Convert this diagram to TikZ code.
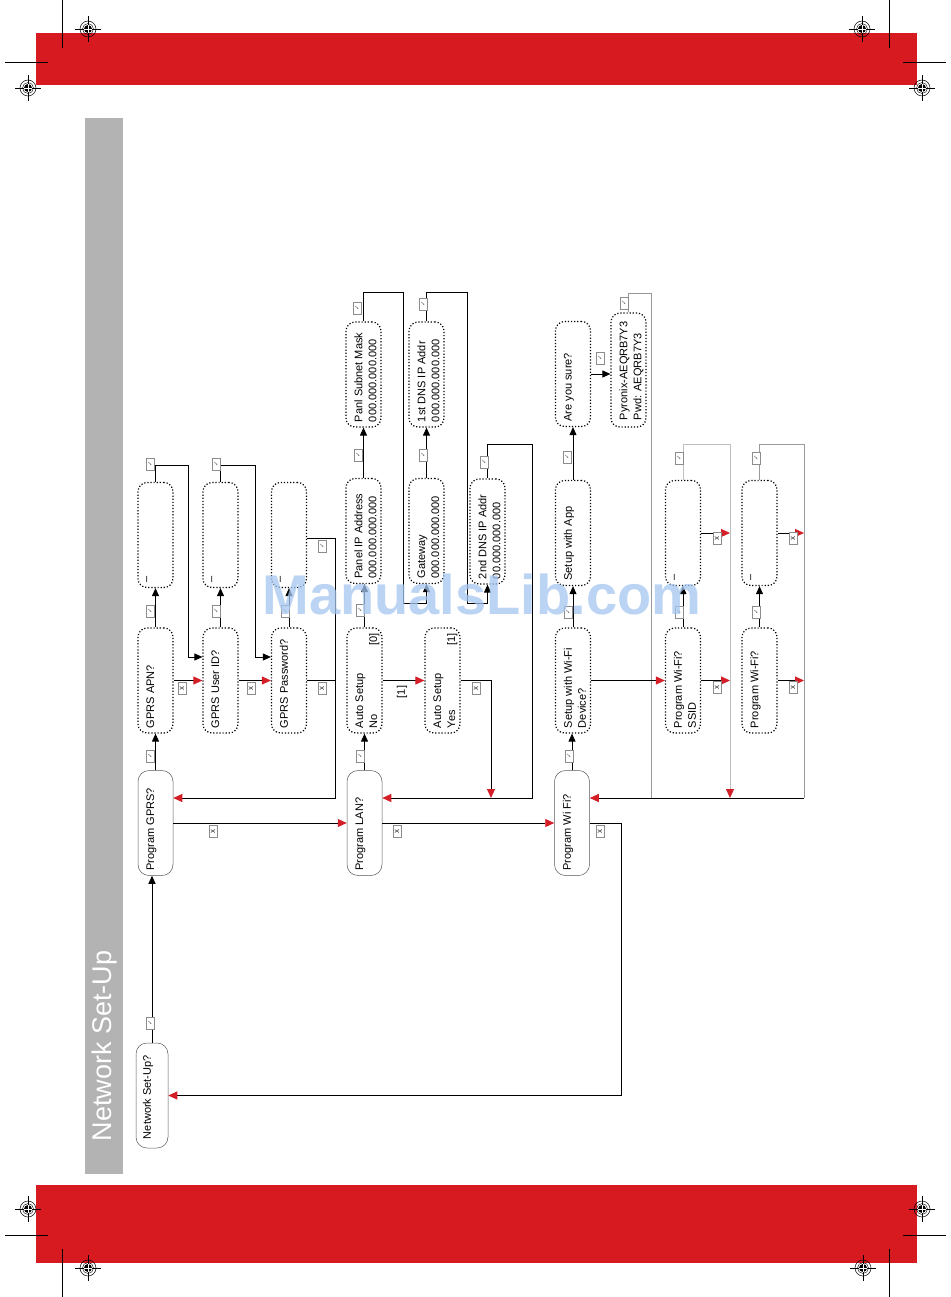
\documentclass[tikz,border=0pt]{standalone}
\usepackage{fontspec}
\setmainfont{Liberation Sans}
\newfontfamily\dejavu{DejaVu Sans}
\usetikzlibrary{arrows.meta}
\definecolor{bandred}{RGB}{215,25,32}
\definecolor{arrred}{RGB}{212,30,40}
\definecolor{sidegray}{RGB}{179,179,179}
\definecolor{wmblue}{RGB}{165,198,240}
\newcommand\boxtxt[2][95pt]{\rotatebox{90}{\parbox[c][18pt][t]{#1}{\raggedright #2}}}
\newcommand\mychk{\rotatebox{90}{\dejavu\fontsize{6.5}{6.5}\selectfont ✓}}
\newcommand\myx{\rotatebox{90}{\fontsize{8}{8}\selectfont x}}
\tikzset{
  dbox/.style={draw, line width=1.2pt, dash pattern=on 1.2pt off 1.9pt, rounded corners=9pt,
    minimum width=35pt, minimum height=105pt, inner sep=0pt, font=\fontsize{11}{14}\selectfont},
  sbox/.style={draw=black!65, line width=0.5pt, rounded corners=11pt,
    minimum width=35pt, minimum height=105pt, inner sep=0pt, font=\fontsize{11}{14}\selectfont},
  cbox/.style={draw=black!45, line width=0.4pt, fill=white, text=black!60,
    minimum width=8pt, minimum height=12pt, inner sep=0pt},
  xbox/.style={draw=black!45, line width=0.4pt, fill=white, text=black!85,
    minimum width=8pt, minimum height=12pt, inner sep=0pt},
  ln/.style={draw=black, line width=0.9pt},
  gln/.style={draw=black!40, line width=0.8pt},
  barr/.style={ln, -{Triangle[length=8pt,width=7pt]}},
  rarr/.style={ln, -{Triangle[length=9pt,width=8pt,color=arrred]}},
  grarr/.style={draw=black!25, line width=0.8pt, -{Triangle[length=9pt,width=8pt,color=arrred]}},
  regm/.pic={
    \draw[line width=0.5pt] (0,0) circle (8);
    \draw[line width=0.4pt] (0,0) circle (5.5);
    \draw[line width=0.5pt] (-13,0) -- (13,0) (0,-13) -- (0,13);
    \fill (0,0) circle (4);
    \draw[white, line width=0.5pt] (-4,0) -- (4,0) (0,-4) -- (0,4);
  }
}
\begin{document}
\begin{tikzpicture}[x=1pt,y=-1pt]
\useasboundingbox (0,0) rectangle (950,1297);
\fill[white] (0,0) rectangle (950,1297);
% bands
\fill[bandred] (36,33) rectangle (917,85);
\fill[bandred] (36,1185) rectangle (917,1263);
% crop marks
\draw[line width=0.5pt] (62,0) -- (62,48) (5,62) -- (48,62);
\draw[line width=0.5pt] (889,0) -- (889,48) (903,62) -- (946,62);
\draw[line width=0.5pt] (62,1249) -- (62,1297) (5,1235) -- (48,1235);
\draw[line width=0.5pt] (889,1249) -- (889,1297) (903,1235) -- (946,1235);
\pic at (88,29) {regm};
\pic at (28,88) {regm};
\pic at (862,29) {regm};
\pic at (922,88) {regm};
\pic at (28,1209) {regm};
\pic at (88,1268) {regm};
\pic at (863,1268) {regm};
\pic at (922,1209) {regm};
% sidebar
\fill[sidegray] (85,118) rectangle (123,1174);
\node[font=\fontsize{27}{27}\selectfont, text=white, inner sep=0pt] (title) at (105,1046) {\rotatebox{90}{Network Set-Up}};

% ---------- nodes ----------
\node[sbox, minimum width=32pt] (netsu) at (152,1095.5) {\boxtxt[87pt]{Network Set-Up?}};
\node[sbox] (prgGPRS) at (155.5,823) {\boxtxt{Program GPRS?}};
\node[dbox] (apn) at (155.5,680.5) {\boxtxt{GPRS APN?}};
\node[dbox] (emA) at (155.5,535) {\boxtxt{–}};
\node[dbox] (uid) at (220.5,680.5) {\boxtxt{GPRS User ID?}};
\node[dbox] (emB) at (220.5,535) {\boxtxt{–}};
\node[dbox] (pwd) at (289,680.5) {\boxtxt{GPRS Password?}};
\node[dbox] (emC) at (289,535) {\boxtxt{–}};

\node[sbox] (prgLAN) at (364.5,823) {\boxtxt{Program LAN?}};
\node[dbox] (autoNo) at (364.5,680.5) {\boxtxt{Auto Setup\\No\hfill[0]}};
\node[dbox] (panelIP) at (363.5,531) {\boxtxt{Panel IP Address\\000.000.000.000}};
\node[dbox] (subnet) at (363.5,374.5) {\boxtxt{Panl Subnet Mask\\000.000.000.000}};
\node[dbox] (autoYes) at (442.5,680.5) {\boxtxt{Auto Setup\\Yes\hfill[1]}};
\node[dbox] (gateway) at (426.5,531) {\boxtxt{Gateway\\000.000.000.000}};
\node[dbox] (dns1) at (426.5,374.5) {\boxtxt{1st DNS IP Addr\\000.000.000.000}};
\node[dbox] (dns2) at (487.5,531.5) {\boxtxt{2nd DNS IP Addr\\00.000.000.000}};

\node[sbox] (prgWiFi) at (572,823) {\boxtxt{Program Wi Fi?}};
\node[dbox] (setupDev) at (573,680.5) {\boxtxt{Setup with Wi-Fi\\Device?}};
\node[dbox] (setupApp) at (573,533) {\boxtxt{Setup with App}};
\node[dbox] (sure) at (573,374) {\boxtxt{Are you sure?}};
\node[dbox, minimum height=114pt] (pyronix) at (628.5,370) {\boxtxt[100pt]{Pyronix-AEQRB7Y3\\Pwd: AEQRB7Y3}};
\node[dbox] (ssid) at (683,680.5) {\boxtxt{Program Wi-Fi?\\SSID}};
\node[dbox] (emI) at (683,533) {\boxtxt{–}};
\node[dbox] (wj) at (759.5,680.5) {\boxtxt{Program Wi-Fi?}};
\node[dbox] (emJ) at (759.5,533) {\boxtxt{–}};

% ---------- connectors: GPRS ----------
\draw[barr] (netsu.north) -- (netsu.north |- prgGPRS.south);
\draw[barr] (prgGPRS.north) -- (apn.south);
\draw[barr] (apn.north) -- (emA.south);
\coordinate (a1) at (188,465); \coordinate (a2) at (188,657);
\draw[barr] (emA.north) |- (a1) -- (a2) -- (a2 -| uid.west);
\draw[rarr] (apn.east) -- (uid.west);
\draw[barr] (uid.north) -- (emB.south);
\coordinate (b1) at (255,465); \coordinate (b2) at (255,657);
\draw[barr] (emB.north) |- (b1) -- (b2) -- (b2 -| pwd.west);
\draw[rarr] (uid.east) -- (pwd.west);
\draw[barr] (pwd.north) -- (emC.south);
\coordinate (c1) at (335,538); \coordinate (c2) at (335,798);
\draw[rarr] (emC.east |- c1) -- (c1) -- (c2) -- (c2 -| prgGPRS.east);
\draw[ln] (pwd.east) -- (pwd.east -| c1);
\draw[rarr] (prgGPRS.east) -- (prgLAN.west);

% ---------- connectors: LAN ----------
\draw[barr] (prgLAN.north) -- (autoNo.south);
\draw[barr] (autoNo.north) -- (autoNo.north |- panelIP.south);
\draw[barr] (panelIP.north) -- (subnet.south);
\coordinate (d1) at (403,292); \coordinate (d2) at (403,603);
\draw[barr] (subnet.north) |- (d1) -- (d2) -| (gateway.south);
\draw[barr] (gateway.north) -- (dns1.south);
\coordinate (e1) at (467,292); \coordinate (e2) at (467,603);
\draw[barr] (dns1.north) |- (e1) -- (e2) -| (dns2.south);
\coordinate (f1) at (532,444); \coordinate (f2) at (532,798);
\draw[rarr] (dns2.north) |- (f1) -- (f2) -- (f2 -| prgLAN.east);
\draw[rarr] (autoNo.east) -- (autoYes.west);
\coordinate (g1) at (491,680.5); \coordinate (g2) at (491,798);
\draw[rarr] (autoYes.east) -- (g1) -- (g2);
\draw[rarr] (prgLAN.east) -- (prgWiFi.west);

% ---------- connectors: WiFi ----------
\coordinate (h1) at (621,823); \coordinate (h2) at (621,1095.5);
\draw[rarr] (prgWiFi.east) -- (h1) -- (h2) -- (h2 -| netsu.east);
\draw[barr] (prgWiFi.north) -- (prgWiFi.north |- setupDev.south);
\draw[barr] (setupDev.north) -- (setupApp.south);
\draw[barr] (setupApp.north) -- (sure.south);
\draw[barr] (sure.east) -- (sure.east -| pyronix.west);
\coordinate (p1) at (651,293); \coordinate (p2) at (651,798);
\draw[gln] (pyronix.north) |- (p1) -- (p2);
\draw[rarr] (setupDev.east) -- (ssid.west);
\draw[barr] (ssid.north) -- (emI.south);
\coordinate (q1) at (730,444); \coordinate (q2) at (730,798);
\coordinate (r1) at (804,444); \coordinate (r2) at (804,798);
\draw[gln] (emJ.north) |- (r1) -- (r2);
\draw[rarr] (r2) -- (r2 -| prgWiFi.east);
\draw[grarr] (emI.north) |- (q1) -- (q2);
\draw[rarr] (emI.east) -- (emI.east -| q1);
\draw[rarr] (ssid.east) -- (ssid.east -| q1);
\draw[barr] (wj.north) -- (emJ.south);
\draw[rarr] (emJ.east) -- (emJ.east -| r1);
\draw[rarr] (wj.east) -- (wj.east -| r1);

% ---------- labels ----------
\node[font=\fontsize{11}{11}\selectfont] (lbl1) at (402,692) {\rotatebox{90}{[1]}};
\node[cbox] (k1) at (150,1023) {\mychk};
\node[cbox] (k2) at (150,756) {\mychk};
\node[cbox] (k3) at (150,611) {\mychk};
\node[cbox] (k4) at (150,464) {\mychk};
\node[cbox] (k5) at (216,611) {\mychk};
\node[cbox] (k6) at (216,464) {\mychk};
\node[cbox] (k7) at (285,611) {\mychk};
\node[cbox] (k8) at (322,546) {\mychk};
\node[xbox] (x1) at (182,688) {\myx};
\node[xbox] (x2) at (251,688) {\myx};
\node[xbox] (x3) at (322,688) {\myx};
\node[xbox] (x4) at (213,831) {\myx};
\node[xbox] (x5) at (397,831) {\myx};
\node[xbox] (x6) at (600,831) {\myx};
\node[cbox] (k9) at (360,756) {\mychk};
\node[cbox] (k10) at (360,610) {\mychk};
\node[cbox] (k11) at (358,455) {\mychk};
\node[cbox] (k12) at (357,308) {\mychk};
\node[cbox] (k13) at (423,455) {\mychk};
\node[cbox] (k14) at (423,304) {\mychk};
\node[cbox] (k15) at (484,462) {\mychk};
\node[xbox] (x7) at (476,688) {\myx};
\node[cbox] (k16) at (569,756) {\mychk};
\node[cbox] (k17) at (568,612) {\mychk};
\node[cbox] (k18) at (567,457) {\mychk};
\node[cbox] (k19) at (600,358) {\mychk};
\node[cbox] (k20) at (624,303) {\mychk};
\node[cbox] (k21) at (679,458) {\mychk};
\node[cbox] (k22) at (756,458) {\mychk};
\node[cbox] (k23) at (679,612) {\mychk};
\node[cbox] (k24) at (756,612) {\mychk};
\node[xbox] (x8) at (717,538) {\myx};
\node[xbox] (x9) at (793,538) {\myx};
\node[xbox] (x10) at (717,687) {\myx};
\node[xbox] (x11) at (793,687) {\myx};

% watermark
\node[font=\fontsize{56}{56}\selectfont\bfseries, text=wmblue, opacity=0.75, inner sep=0pt] (wm) at (482,594) {ManualsLib.com};
\end{tikzpicture}
\end{document}
